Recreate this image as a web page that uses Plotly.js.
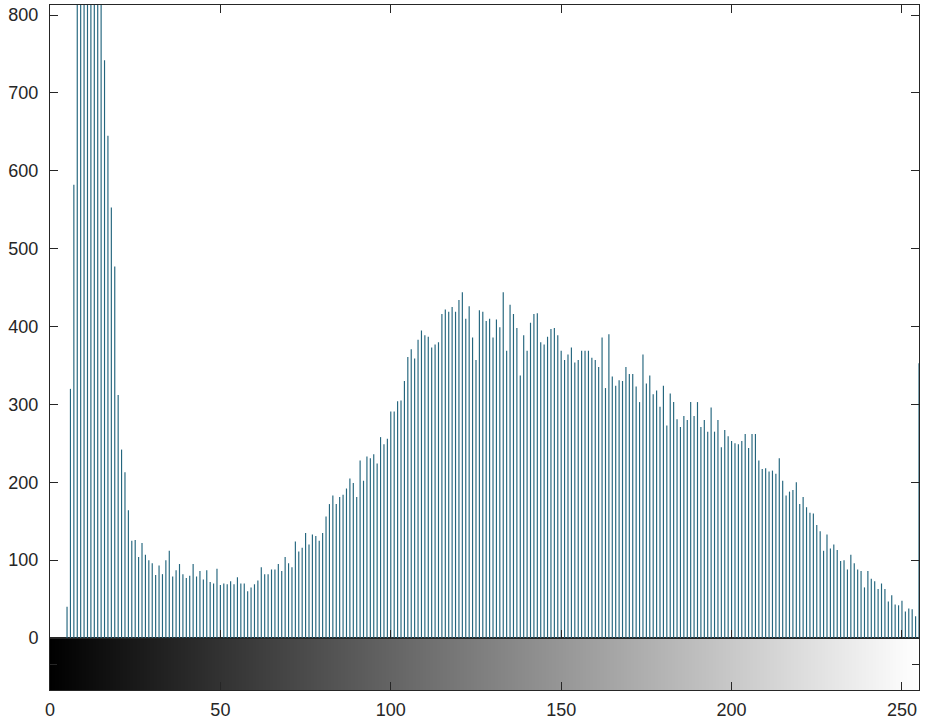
<!DOCTYPE html>
<html>
<head>
<meta charset="utf-8">
<script src="https://cdn.plot.ly/plotly-3.0.1.min.js"></script>
<style>
  html, body { margin: 0; padding: 0; background: #fff; }
  #graph { width: 930px; height: 722px; }
</style>
</head>
<body>
<div id="graph"></div>
<script>
// gray level bins 0..255 (x positions of the histogram + colour bar cells)
const grayLevels = Array.from({ length: 256 }, (_, i) => i);

// pixel counts per gray level (bins 8-15 run off the top)
const counts = [
    0, 0, 0, 0, 0, 40, 320, 582, 1050, 1380,
    1620, 1700, 1560, 1320, 1080, 880, 742, 645, 553, 477,
    312, 242, 213, 164, 125, 126, 104, 122, 107, 100,
    96, 81, 93, 82, 100, 112, 79, 87, 95, 82,
    77, 80, 95, 79, 86, 75, 87, 72, 70, 89,
    68, 70, 69, 73, 69, 78, 70, 70, 60, 65,
    69, 74, 91, 82, 82, 88, 88, 95, 86, 104,
    96, 91, 124, 111, 116, 135, 120, 133, 131, 125,
    135, 156, 172, 183, 172, 181, 184, 192, 205, 199,
    181, 228, 202, 233, 231, 236, 224, 258, 249, 256,
    291, 291, 304, 305, 330, 361, 371, 359, 383, 395,
    389, 387, 373, 377, 380, 416, 422, 419, 425, 419,
    434, 444, 410, 426, 386, 357, 421, 419, 407, 410,
    386, 409, 399, 444, 369, 428, 416, 398, 337, 389,
    369, 405, 416, 417, 380, 377, 387, 397, 398, 389,
    369, 357, 364, 373, 354, 357, 369, 369, 369, 360,
    357, 348, 386, 321, 390, 336, 324, 331, 330, 348,
    339, 339, 323, 303, 364, 327, 337, 313, 318, 297,
    324, 273, 314, 303, 281, 271, 285, 280, 303, 285,
    303, 271, 280, 265, 296, 265, 280, 245, 267, 259,
    253, 250, 249, 253, 262, 244, 262, 262, 228, 217,
    218, 214, 215, 211, 231, 202, 183, 188, 190, 200,
    172, 181, 168, 161, 160, 145, 137, 112, 133, 115,
    120, 113, 99, 100, 88, 107, 96, 88, 86, 65,
    86, 76, 73, 63, 70, 63, 47, 55, 43, 42,
    48, 34, 38, 37, 28, 353
];

const xTicks = [0, 50, 100, 150, 200, 250];
const yTicks = [0, 100, 200, 300, 400, 500, 600, 700, 800];

const axisColor = '#262626';
const barColor = '#24667e';
const barDomain = 52 / 685;   // colour bar strip height / plot height

const histTrace = {
    type: 'bar',
    x: grayLevels,
    y: counts,
    width: 0.34,
    marker: { color: barColor, line: { width: 0 } },
    xaxis: 'x2',
    yaxis: 'y2',
    hoverinfo: 'x+y'
};

const grayBar = {
    type: 'heatmap',
    x: grayLevels,
    y: [0],
    z: [grayLevels],
    colorscale: [[0, '#000000'], [1, '#ffffff']],
    zmin: 0,
    zmax: 255,
    showscale: false,
    xaxis: 'x',
    yaxis: 'y',
    hoverinfo: 'skip'
};

function getLayout() {
    const common = {
        showgrid: false,
        zeroline: false,
        showline: true,
        linecolor: axisColor,
        linewidth: 1,
        ticks: 'inside',
        tickcolor: axisColor,
        tickwidth: 1
    };
    return {
        width: 930,
        height: 722,
        paper_bgcolor: '#ffffff',
        plot_bgcolor: '#ffffff',
        showlegend: false,
        font: { family: "'Liberation Sans', Arial, Helvetica, sans-serif", size: 18, color: axisColor },
        margin: { l: 50, r: 11, t: 5, b: 32, pad: 0 },
        xaxis: Object.assign({}, common, {
            domain: [0, 1],
            anchor: 'y',
            range: [0, 255],
            tickvals: xTicks,
            ticklen: 8,
            mirror: true,
            ticklabelstandoff: 3
        }),
        yaxis: Object.assign({}, common, {
            domain: [0, barDomain],
            anchor: 'x',
            range: [-0.5, 0.5],
            tickvals: [0],
            ticklen: 7,
            mirror: 'ticks',
            showticklabels: false
        }),
        xaxis2: Object.assign({}, common, {
            domain: [0, 1],
            anchor: 'y2',
            range: [0, 255],
            tickvals: xTicks,
            ticklen: 8,
            mirror: 'ticks',
            showticklabels: false
        }),
        yaxis2: Object.assign({}, common, {
            domain: [barDomain, 1],
            anchor: 'x2',
            range: [0, 813],
            tickvals: yTicks,
            ticklen: 8,
            mirror: 'ticks',
            ticklabelstandoff: 7
        })
    };
}

Plotly.newPlot('graph', [grayBar, histTrace], getLayout(), { displayModeBar: false, staticPlot: true });
</script>
</body>
</html>
